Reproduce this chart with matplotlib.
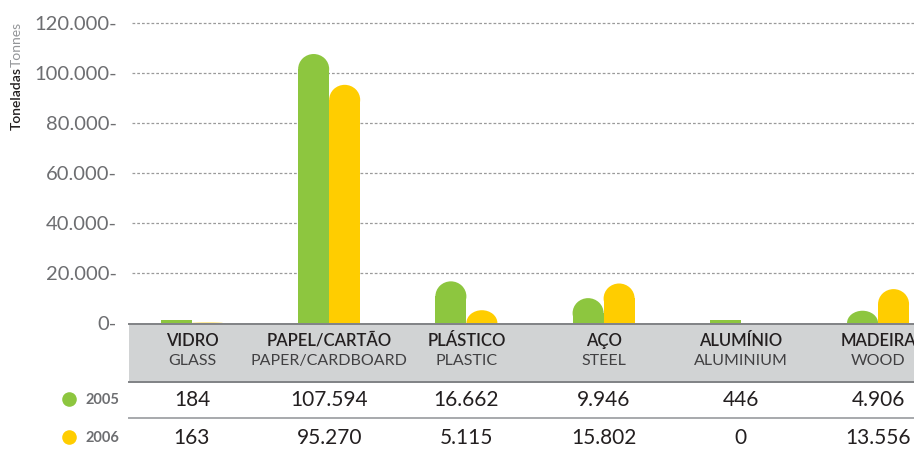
import matplotlib.pyplot as plt
from matplotlib.patches import Rectangle, Ellipse
from matplotlib import transforms

plt.rcParams['font.family'] = ['Lato', 'DejaVu Sans']

# dados por material
materiais_pt = ['VIDRO', 'PAPEL/CARTÃO', 'PLÁSTICO', 'AÇO', 'ALUMÍNIO', 'MADEIRA']
materiais_en = ['GLASS', 'PAPER/CARDBOARD', 'PLASTIC', 'STEEL', 'ALUMINIUM', 'WOOD']
anos = ['2005', '2006']
valores_2005 = [184, 107594, 16662, 9946, 446, 4906]
valores_2006 = [163, 95270, 5115, 15802, 0, 13556]
yticks = [0, 20000, 40000, 60000, 80000, 100000, 120000]

verde = '#8DC63F'
amarelo = '#FFCD00'
cinza_txt = '#6D6E71'

W, H = 914, 450
fig = plt.figure(figsize=(W / 100, H / 100), dpi=100)

# eixo das barras (0 em y=323px, 120.000 em y=23px)
ax = fig.add_axes([128 / W, (H - 323) / H, (W - 128) / W, 300 / H])
ax.set_facecolor('none')
ax.set_xlim(-0.466, 5.262)
ax.set_ylim(0, 120000)
ax.set_yticks(yticks)
ax.set_yticklabels([f'{v:,}'.replace(',', '.') + '-' for v in yticks],
                   fontsize=14.5, color=cinza_txt)
ax.tick_params(axis='y', length=0, pad=8)
ax.set_xticks([])
for s in ax.spines.values():
    s.set_visible(False)
for v in yticks[1:]:
    ax.plot([-0.44, 5.3], [v, v], color='#9A9A9A', lw=0.9,
            ls=(0, (2.2, 1.6)), zorder=0, clip_on=False)

# barras com topo arredondado
bw = 0.226
ry = 6000       # raio vertical do topo, em toneladas


def barra(x0, h, cor, h_min):
    if h <= 0:
        return
    if h < h_min:
        # valores muito pequenos: traço plano
        ax.add_patch(Rectangle((x0, 0), bw, h_min, color=cor, lw=0, zorder=2))
        return
    r = min(ry, h)
    if h > r:
        ax.add_patch(Rectangle((x0, 0), bw, h - r, color=cor, lw=0, zorder=2))
    ax.add_patch(Ellipse((x0 + bw / 2, h - r), bw, 2 * r, color=cor, lw=0, zorder=2))


for i in range(len(materiais_pt)):
    barra(i - bw, valores_2005[i], verde, 1100)
    barra(i, valores_2006[i], amarelo, 0)

# camada em pixels para a tabela
ov = fig.add_axes([0, 0, 1, 1], zorder=-1)
ov.set_xlim(0, W)
ov.set_ylim(H, 0)
ov.axis('off')
tr = transforms.blended_transform_factory(ax.transData, ov.transData)

ov.add_patch(Rectangle((129, 324), W - 129, 58, color='#D1D3D4', lw=0))
ov.plot([129, W], [324, 324], color='#808285', lw=1.4)
ov.plot([129, W], [382, 382], color='#808285', lw=1.4)
ov.plot([129, W], [418, 418], color='#A7A9AC', lw=1.4)

for i in range(len(materiais_pt)):
    ov.text(i, 341, materiais_pt[i], transform=tr, ha='center', va='center',
            fontsize=12, fontweight='semibold', color='#231F20')
    ov.text(i, 361, materiais_en[i], transform=tr, ha='center', va='center',
            fontsize=11.5, color='#414042')
    ov.text(i, 400, f'{valores_2005[i]:,}'.replace(',', '.'), transform=tr,
            ha='center', va='center', fontsize=15, color='#231F20')
    ov.text(i, 438, f'{valores_2006[i]:,}'.replace(',', '.'), transform=tr,
            ha='center', va='center', fontsize=15, color='#231F20')

# legenda
for ano, cor, y in zip(anos, [verde, amarelo], [399, 437]):
    ov.plot(69, y, 'o', ms=10.5, color=cor, mec='none')
    ov.text(85, y + 1, ano, ha='left', va='center', fontsize=10.5,
            fontweight='bold', color=cinza_txt)

# título do eixo y
fig.text(17 / W, 1 - 98 / H, 'Toneladas', rotation=90, ha='center', va='center',
         fontsize=10, fontweight='semibold', color='#231F20')
fig.text(17 / W, 1 - 44 / H, 'Tonnes', rotation=90, ha='center', va='center',
         fontsize=10, color='#939598')

fig.savefig('out.png', dpi=100)
